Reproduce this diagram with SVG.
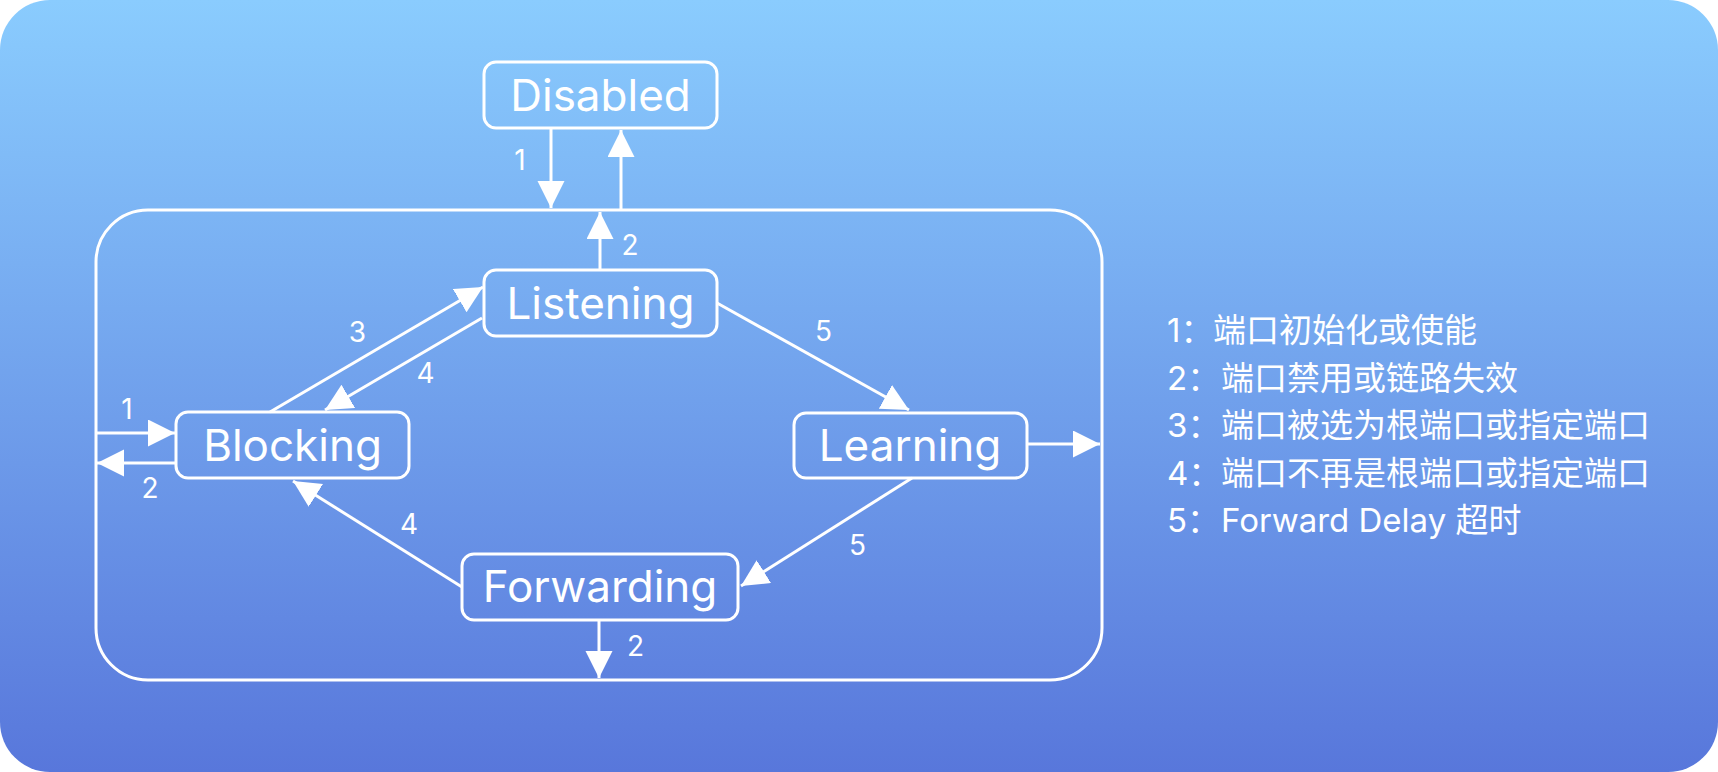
<svg xmlns="http://www.w3.org/2000/svg" width="1718" height="772" viewBox="0 0 1718 772">
  <defs>
    <linearGradient id="bg" x1="0" y1="0" x2="0" y2="1">
      <stop offset="0" stop-color="#8ACCFE"/>
      <stop offset="1" stop-color="#5877DB"/>
    </linearGradient>
    <marker id="arr" markerUnits="userSpaceOnUse" markerWidth="28" markerHeight="28" refX="27" refY="13.5" orient="auto" viewBox="0 0 28 28">
      <path d="M0,0 L27,13.5 L0,27 Z" fill="#FFFFFF"/>
    </marker>
    <style>
      .node { fill: none; stroke: #FFFFFF; stroke-width: 3; }
      .nlabel { fill: #FFFFFF; font-family: Inter, "Noto Sans", sans-serif; font-size: 44px; text-anchor: middle; }
      .edge { stroke: #FFFFFF; stroke-width: 3; fill: none; marker-end: url(#arr); }
      .elabel { fill: #FFFFFF; font-family: Inter, "Noto Sans", sans-serif; font-size: 28px; text-anchor: middle; }
      .legend { fill: #FFFFFF; font-family: Inter, "Noto Sans CJK SC", sans-serif; font-size: 33px; }
    </style>
  </defs>
  <rect x="0" y="0" width="1718" height="772" fill="#FFFFFF"/>
  <rect x="0" y="0" width="1718" height="772" rx="50" ry="50" fill="url(#bg)"/>

  <g id="container">
    <rect class="node" x="96" y="210" width="1006" height="470" rx="52" ry="52"/>
  </g>

  <g id="disabled">
    <rect class="node" x="484" y="62" width="233" height="66" rx="12" ry="12"/>
    <text class="nlabel" x="600.5" y="111">Disabled</text>
  </g>
  <g id="listening">
    <rect class="node" x="484" y="270" width="233" height="66" rx="12" ry="12"/>
    <text class="nlabel" x="600.5" y="319">Listening</text>
  </g>
  <g id="blocking">
    <rect class="node" x="176" y="412" width="233" height="66" rx="12" ry="12"/>
    <text class="nlabel" x="292.5" y="461">Blocking</text>
  </g>
  <g id="learning">
    <rect class="node" x="794" y="413" width="233" height="65" rx="12" ry="12"/>
    <text class="nlabel" x="910" y="461">Learning</text>
  </g>
  <g id="forwarding">
    <rect class="node" x="462" y="554" width="276" height="66" rx="12" ry="12"/>
    <text class="nlabel" x="600" y="602">Forwarding</text>
  </g>

  <g id="connectors">
    <line class="edge" x1="551" y1="129" x2="551" y2="208"/>
    <line class="edge" x1="621" y1="209" x2="621" y2="130"/>
    <line class="edge" x1="600" y1="270" x2="600" y2="212"/>
    <line class="edge" x1="96" y1="433" x2="175" y2="433"/>
    <line class="edge" x1="176" y1="463" x2="97" y2="463"/>
    <line class="edge" x1="270" y1="412" x2="483" y2="287"/>
    <line class="edge" x1="482" y1="318" x2="325" y2="410"/>
    <line class="edge" x1="462" y1="587" x2="293" y2="481"/>
    <line class="edge" x1="717" y1="303" x2="909" y2="410"/>
    <line class="edge" x1="912" y1="478" x2="741" y2="586"/>
    <line class="edge" x1="1027" y1="444" x2="1100" y2="444"/>
    <line class="edge" x1="599" y1="620" x2="599" y2="678"/>
    <text class="elabel" x="520" y="170">1</text>
    <text class="elabel" x="630" y="255">2</text>
    <text class="elabel" x="127" y="419">1</text>
    <text class="elabel" x="150" y="498">2</text>
    <text class="elabel" x="357.5" y="342">3</text>
    <text class="elabel" x="425.5" y="383">4</text>
    <text class="elabel" x="409" y="534">4</text>
    <text class="elabel" x="635.5" y="656">2</text>
    <text class="elabel" x="823.5" y="341">5</text>
    <text class="elabel" x="857.5" y="555">5</text>
  </g>

  <g id="legend">
    <text class="legend" x="1167" y="342">1：<tspan x="1213">端口初始化或使能</tspan></text>
    <text class="legend" x="1167" y="390">2：<tspan x="1221">端口禁用或链路失效</tspan></text>
    <text class="legend" x="1167" y="437">3：<tspan x="1221">端口被选为根端口或指定端口</tspan></text>
    <text class="legend" x="1167" y="485">4：<tspan x="1221">端口不再是根端口或指定端口</tspan></text>
    <text class="legend" x="1167" y="532">5：<tspan x="1221">Forward Delay 超时</tspan></text>
  </g>
</svg>
